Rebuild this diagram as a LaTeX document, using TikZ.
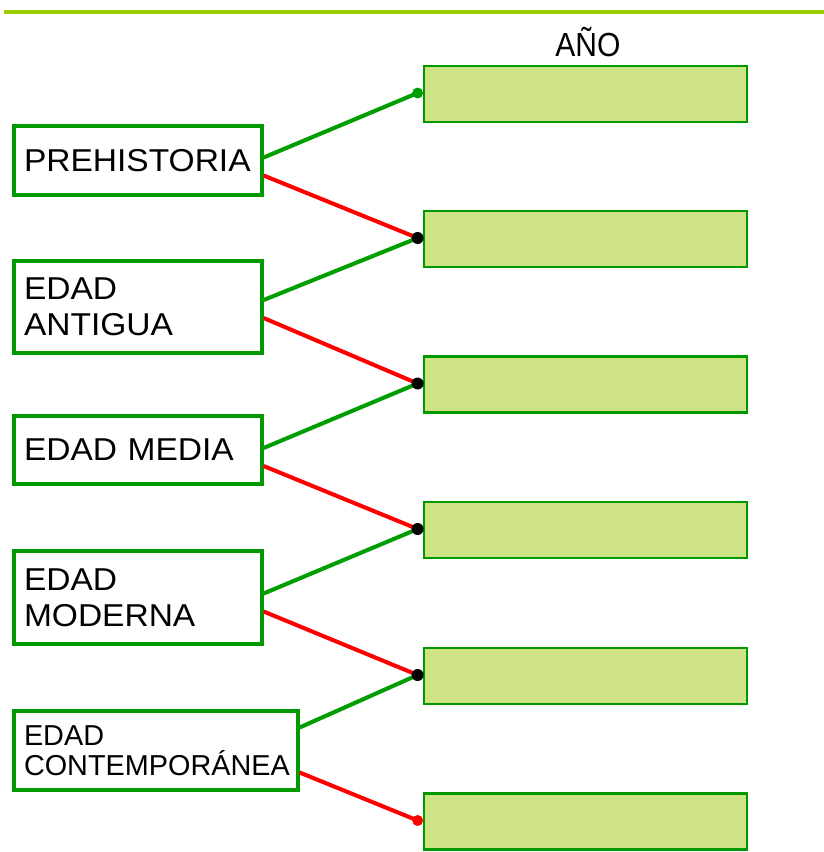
\documentclass[tikz,border=0pt]{standalone}
\usepackage{fontspec}
\setmainfont{Liberation Sans}
\newfontfamily\etapafont{Liberation Sans}[FakeStretch=1.06]
\newfontfamily\anofont{Liberation Sans}[FakeStretch=0.9]
\usepackage{xcolor}
\usepackage{tikz}
\usetikzlibrary{calc,positioning}

\definecolor{verdeborde}{RGB}{0,153,0}
\definecolor{verdelinea}{RGB}{0,158,0}
\definecolor{verdeclaro}{RGB}{205,227,133}
\definecolor{lima}{RGB}{153,204,0}

\tikzset{
  etapa/.style={draw=verdeborde, line width=1.9pt, fill=white, align=left,
    text width=4.56cm, inner xsep=0.2cm, minimum width=4.96cm,
    font=\etapafont\fontsize{18}{20.5}\selectfont},
  anobox/.style={draw=verdeborde, line width=1.6pt, fill=verdeclaro,
    minimum width=6.46cm, minimum height=1.12cm},
  enlace/.style={line width=2.3pt},
}

\begin{document}
\begin{tikzpicture}[x=0.02cm,y=-0.02cm]
\useasboundingbox (0,0) rectangle (824,852);

% Top rule
\draw[lima,line width=0.08cm] (4,12) -- (824,12);

% Column title
\node[font=\anofont\fontsize{19}{21}\selectfont] (ano) at (588,42) {AÑO};

% Answer boxes
\foreach \i/\y in {1/94, 2/239, 3/384.5, 4/530, 5/676, 6/821.5}
  \node[anobox] (a\i) at (585.5,\y) {};

% Periods
\node[etapa, minimum height=1.38cm] (pre) at (138,160.5) {PREHISTORIA};
\node[etapa, minimum height=1.84cm] (ant) at (138,307) {EDAD\\ANTIGUA};
\node[etapa, minimum height=1.36cm] (med) at (138,450) {EDAD MEDIA};
\node[etapa, minimum height=1.86cm] (mod) at (138,597.5) {EDAD\\MODERNA};
\node[etapa, minimum height=1.58cm, text width=5.28cm, minimum width=5.68cm,
  font=\fontsize{16.4}{17}\selectfont] (con) at (156,750.5) {EDAD\\CONTEMPORÁNEA};

% Connectors: green to the upper box, red to the lower box
\foreach \n/\g/\r/\up/\down in {pre/-3/15/1/2, ant/-7/11/2/3, med/-2/16/3/4,
  mod/-4/14/4/5, con/-23/22/5/6} {
  \draw[enlace,verdelinea] ($(\n.east)+(0,\g)$) -- ($(a\up.west)+(-5,-1)$);
  \draw[enlace,red] ($(\n.east)+(0,\r)$) -- ($(a\down.west)+(-5,-1)$);
}

% Joints
\fill[verdelinea] ($(a1.west)+(-5,-1)$) circle (0.11cm);
\foreach \i in {2,...,5}
  \fill[black] ($(a\i.west)+(-5,-1)$) circle (0.12cm);
\fill[red] ($(a6.west)+(-5,-1)$) circle (0.11cm);
\end{tikzpicture}
\end{document}
